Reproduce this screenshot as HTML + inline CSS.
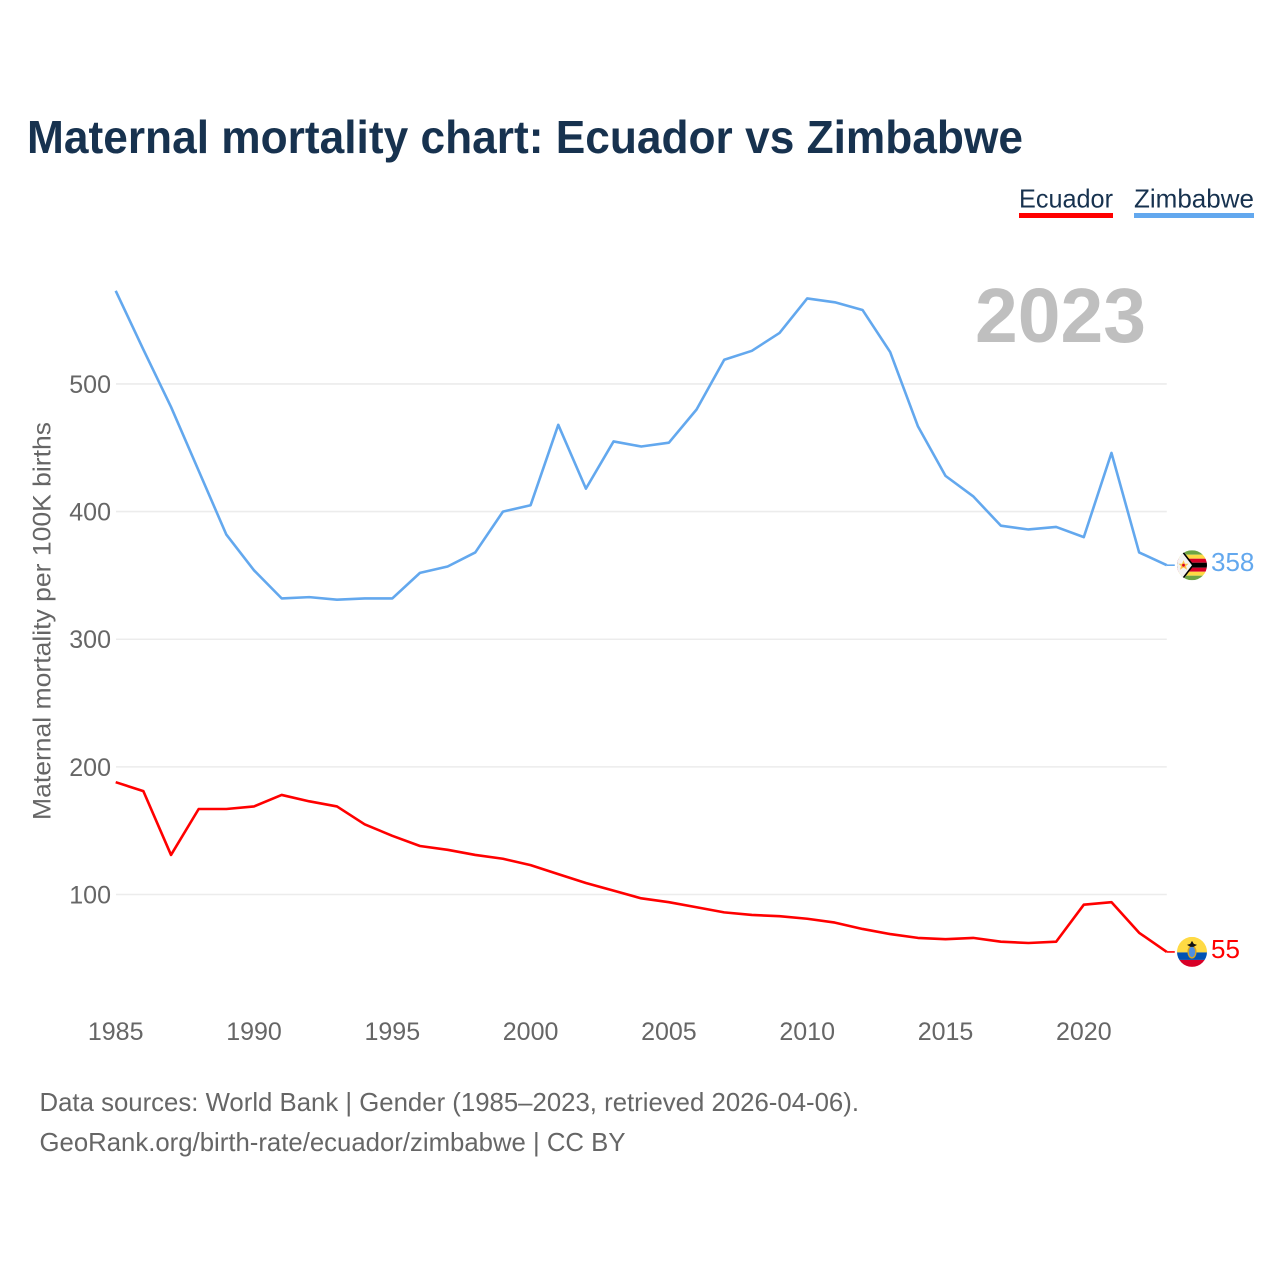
<!DOCTYPE html>
<html lang="en">
<head>
<meta charset="utf-8">
<title>Maternal mortality chart: Ecuador vs Zimbabwe</title>
<style>
html,body{margin:0;padding:0;background:#fff;width:1280px;height:1280px;overflow:hidden}
svg{display:block}
text{font-family:"Liberation Sans",sans-serif}
</style>
</head>
<body>
<svg id="chart" xmlns="http://www.w3.org/2000/svg" width="1280" height="1280" viewBox="0 0 1280 1280">
  <text x="27" y="153" font-size="46" font-weight="700" fill="#17324f" textLength="996" lengthAdjust="spacingAndGlyphs">Maternal mortality chart: Ecuador vs Zimbabwe</text>

  <g>
    <g>
      <text x="1019" y="207.5" font-size="26" fill="#17324f" textLength="94" lengthAdjust="spacingAndGlyphs">Ecuador</text>
      <rect x="1019" y="213" width="94" height="5" fill="#ff0000"/>
    </g>
    <g>
      <text x="1134" y="207.5" font-size="26" fill="#17324f" textLength="120" lengthAdjust="spacingAndGlyphs">Zimbabwe</text>
      <rect x="1134" y="213" width="120" height="5" fill="#63a8ee"/>
    </g>
  </g>

  <text x="975" y="342" font-size="77" font-weight="700" fill="#bfbfbf" textLength="171" lengthAdjust="spacingAndGlyphs">2023</text>

  <g id="grid"></g>
  <g id="yticks"></g>
  <g id="xticks"></g>

  <text transform="translate(50.5,820) rotate(-90)" font-size="25" fill="#666666" textLength="398" lengthAdjust="spacingAndGlyphs">Maternal mortality per 100K births</text>

  <g id="series"></g>

  <defs>
    <clipPath id="clip-zw"><circle id="clip-zw-c" cx="0" cy="0" r="15"/></clipPath>
    <clipPath id="clip-ec"><circle id="clip-ec-c" cx="0" cy="0" r="15"/></clipPath>
  </defs>

  <g id="flag-zw">
    <g clip-path="url(#clip-zw)">
      <rect x="-15" y="-15" width="30" height="30" fill="#f3f3f3"/>
      <rect x="-15" y="-15" width="30" height="4.5" fill="#6da544"/>
      <rect x="-15" y="-10.5" width="30" height="4" fill="#ffda44"/>
      <rect x="-15" y="-6.5" width="30" height="4" fill="#d80027"/>
      <rect x="-15" y="-2.5" width="30" height="5" fill="#000000"/>
      <rect x="-15" y="2.5" width="30" height="4" fill="#d80027"/>
      <rect x="-15" y="6.5" width="30" height="4" fill="#ffda44"/>
      <rect x="-15" y="10.5" width="30" height="4.5" fill="#6da544"/>
      <path d="M-15,-15 L-9,-15 L1,0 L-9,15 L-15,15 Z" fill="#f3f3f3"/>
      <path d="M-9,-13 L1,0 L-9,13" fill="none" stroke="#000" stroke-width="1.6"/>
      <path d="M-8.5,-5 L-7,-1.5 L-3.5,-1.5 L-6,0.8 L-5,4.5 L-8.5,2.3 L-12,4.5 L-11,0.8 L-13.5,-1.5 L-10,-1.5 Z" fill="#ffc24a"/>
      <circle cx="-8.5" cy="0" r="1.4" fill="#d80027"/>
    </g>
  </g>

  <g id="flag-ec">
    <g clip-path="url(#clip-ec)">
      <rect x="-15" y="-15" width="30" height="15.5" fill="#ffda44"/>
      <rect x="-15" y="0.5" width="30" height="7.5" fill="#0052b4"/>
      <rect x="-15" y="8" width="30" height="7" fill="#d80027"/>
      <ellipse cx="0" cy="0" rx="4.6" ry="6.6" fill="#d9a520"/>
      <ellipse cx="0" cy="0" rx="3.2" ry="5.2" fill="#4f8fe0"/>
      <path d="M-5,-7 L-1.8,-8 L0,-11 L1.8,-8 L5,-7 L1.5,-5 L-1.5,-5 Z" fill="#111"/>
    </g>
  </g>

  <g id="endlabels"></g>

  <text x="39.5" y="1111" font-size="26" fill="#666666" textLength="819.5" lengthAdjust="spacingAndGlyphs">Data sources: World Bank | Gender (1985–2023, retrieved 2026-04-06).</text>
  <text x="39.5" y="1151" font-size="26" fill="#666666" textLength="586" lengthAdjust="spacingAndGlyphs">GeoRank.org/birth-rate/ecuador/zimbabwe | CC BY</text>
</svg>

<script>
const years = [1985,1986,1987,1988,1989,1990,1991,1992,1993,1994,1995,1996,1997,1998,1999,2000,2001,2002,2003,2004,2005,2006,2007,2008,2009,2010,2011,2012,2013,2014,2015,2016,2017,2018,2019,2020,2021,2022,2023];
const zimbabweValues = [573,527,482,432,382,354,332,333,331,332,332,352,357,368,400,405,468,418,455,451,454,480,519,526,540,567,564,558,525,467,428,412,389,386,388,380,446,368,358];
const ecuadorValues = [188,181,131,167,167,169,178,173,169,155,146,138,135,131,128,123,116,109,103,97,94,90,86,84,83,81,78,73,69,66,65,66,63,62,63,92,94,70,55];
const yTickValues = [100,200,300,400,500];
const xTickValues = [1985,1990,1995,2000,2005,2010,2015,2020];

const NS = 'http://www.w3.org/2000/svg';
function xScale(year) { return 115.7 + (year - 1985) * 27.66; }
function yScale(value) { return 894.5 - (value - 100) * 1.2763; }
function make(tag, attrs, parent) {
  const el = document.createElementNS(NS, tag);
  for (const k in attrs) el.setAttribute(k, attrs[k]);
  parent.appendChild(el);
  return el;
}

const grid = document.getElementById('grid');
const yticks = document.getElementById('yticks');
const xticks = document.getElementById('xticks');
const seriesGroup = document.getElementById('series');
const endlabels = document.getElementById('endlabels');
const plotRight = xScale(years[years.length - 1]);

yTickValues.forEach(function (v) {
  const line = make('line', {x1: 116, x2: plotRight, y1: yScale(v), y2: yScale(v), stroke: '#ececec', 'stroke-width': 1.6}, grid);
  
  
  const label = make('text', {x: 111, y: yScale(v) + 9, 'text-anchor': 'end', 'font-size': 25, fill: '#666666'}, yticks);
  label.textContent = v;
  
  
});

xTickValues.forEach(function (y) {
  const label = make('text', {x: xScale(y), y: 1040, 'text-anchor': 'middle', 'font-size': 25, fill: '#666666'}, xticks);
  label.textContent = y;
  
  
});

function drawSeries(values, color, key, flagId, clipId) {
  const pts = values.map(function (v, i) { return xScale(years[i]).toFixed(2) + ',' + yScale(v).toFixed(2); }).join(' ');
  const line = make('polyline', {points: pts, fill: 'none', stroke: color, 'stroke-width': 2.6, 'stroke-linejoin': 'round'}, seriesGroup);
  
  

  const last = values[values.length - 1];
  const ly = yScale(last);
  const stub = make('line', {x1: plotRight, x2: plotRight + 8, y1: ly, y2: ly, stroke: color, 'stroke-width': 1.6}, seriesGroup);
  
  

  const transform = 'translate(1192,' + ly.toFixed(2) + ')';
  document.getElementById(flagId).setAttribute('transform', transform);
  document.getElementById(clipId).setAttribute('cy', 0);

  const label = make('text', {x: 1211, y: ly + 6, 'font-size': 26, fill: color}, endlabels);
  label.textContent = last;
  
  
}

drawSeries(zimbabweValues, '#63a8ee', 'zimbabwe', 'flag-zw', 'clip-zw-c');
drawSeries(ecuadorValues, '#ff0000', 'ecuador', 'flag-ec', 'clip-ec-c');
</script>
</body>
</html>
